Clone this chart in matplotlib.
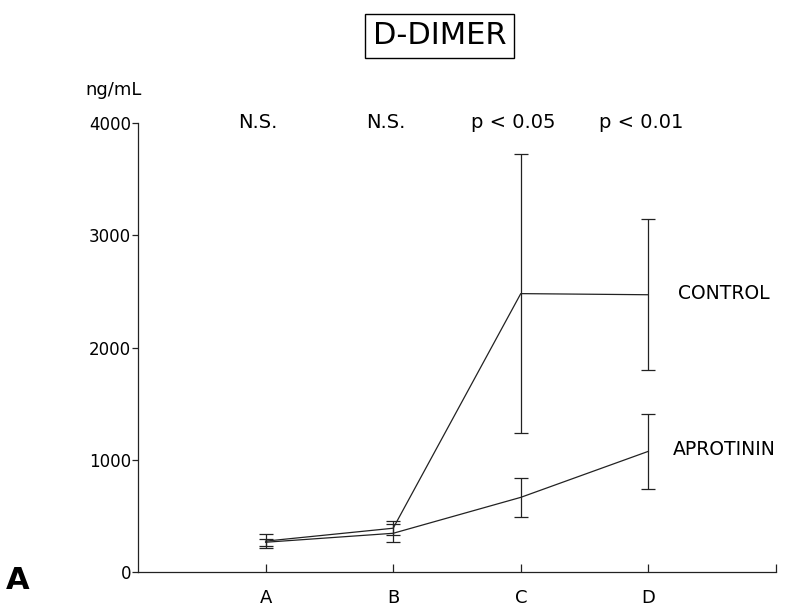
import matplotlib
matplotlib.use("Agg")
import matplotlib.pyplot as plt

plt.rcParams['font.family'] = ['DejaVu Sans']

categories = ["A", "B", "C", "D"]
control_mean = [275, 390, 2480, 2470]
control_err = [65, 60, 1240, 672]
aprotinin_mean = [265, 345, 665, 1075]
aprotinin_err = [30, 80, 175, 335]
significance = ["N.S.", "N.S.", "p < 0.05", "p < 0.01"]
yticks = [0, 1000, 2000, 3000, 4000]

fig = plt.figure(figsize=(7.88, 6.08), dpi=100)
ax = fig.add_axes([0.1751, 0.0592, 0.8096, 0.7385])

x = list(range(1, len(categories) + 1))
col = '#222222'
ax.errorbar(x, control_mean, yerr=control_err, color=col, lw=0.9,
            elinewidth=0.9, capsize=5, capthick=0.9)
ax.errorbar(x, aprotinin_mean, yerr=aprotinin_err, color=col, lw=0.9,
            elinewidth=0.9, capsize=5, capthick=0.9)

ax.set_xlim(0, 5)
ax.set_ylim(0, 4000)
ax.spines['top'].set_visible(False)
ax.spines['right'].set_visible(False)
for s in ['left', 'bottom']:
    ax.spines[s].set_linewidth(0.9)
    ax.spines[s].set_color(col)

ax.set_xticks(x + [5])
ax.set_xticklabels(categories + [""], fontsize=13)
ax.tick_params(axis='x', direction='in', length=6, width=0.9, pad=12, colors=col)
ax.tick_params(axis='x', labelcolor='black')
ax.set_yticks(yticks)
ax.set_yticklabels([str(v) for v in yticks], fontsize=12)
ax.tick_params(axis='y', direction='out', length=4, width=0.9, pad=1, colors=col)
ax.tick_params(axis='y', labelcolor='black')

for xi, s in zip(x, significance):
    ax.text(xi - 0.06, 4000, s, ha='center', va='center', fontsize=14)

ax.text(4.23, 2485, "CONTROL", ha='left', va='center', fontsize=13.5)
ax.text(4.19, 1087, "APROTININ", ha='left', va='center', fontsize=13.5)

fig.text(0.108, 0.852, "ng/mL", ha='left', va='center', fontsize=13)
fig.text(0.558, 0.941, "D-DIMER", ha='center', va='center', fontsize=22,
         bbox=dict(boxstyle='square,pad=0.25', fc='white', ec='black', lw=1))
fig.text(0.008, 0.046, "A", ha='left', va='center', fontsize=22, fontweight='bold')

fig.savefig("out.png", dpi=100)
